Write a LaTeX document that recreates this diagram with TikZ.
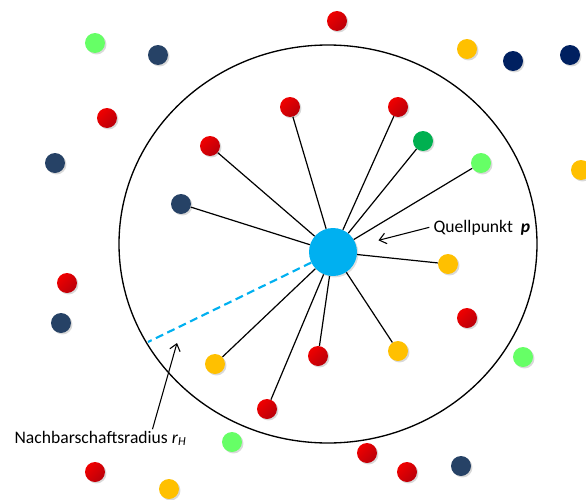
\documentclass[tikz,border=0pt]{standalone}
\usepackage{fontspec}
\setmainfont{Carlito}
\usetikzlibrary{shadows,arrows.meta}
\definecolor{dotred}{RGB}{240,0,0}
\definecolor{dotdarkred}{RGB}{185,0,10}
\definecolor{dotyellow}{RGB}{255,192,0}
\definecolor{dotgreen}{RGB}{0,176,80}
\definecolor{dotlime}{RGB}{102,255,102}
\definecolor{dotnavy}{RGB}{0,32,96}
\definecolor{dotslate}{RGB}{38,66,102}
\definecolor{quellblue}{RGB}{0,176,240}
\tikzset{
  dot/.style={circle,minimum size=15pt,inner sep=0pt,
    drop shadow={shadow xshift=1.1pt,shadow yshift=-1.1pt,opacity=.3}},
  rdot/.style={dot,top color=dotred,bottom color=dotdarkred,shading angle=45},
  ydot/.style={dot,fill=dotyellow},
  gdot/.style={dot,fill=dotgreen},
  ldot/.style={dot,fill=dotlime},
  ndot/.style={dot,fill=dotnavy},
  sdot/.style={dot,fill=dotslate},
  link/.style={line width=.9pt},
  pointer/.style={-{Straight Barb[length=5pt,width=8pt]},line width=.8pt},
  lbl/.style={font=\fontsize{13.2}{16}\selectfont,inner sep=1pt}
}
\begin{document}
\begin{tikzpicture}[x=.75pt,y=-.75pt]
\useasboundingbox (0,0) rectangle (586,500);

%neighbourhood
\draw[line width=1pt](328,244)ellipse[x radius=209,y radius=199];
%source point
\node[circle,fill=quellblue,minimum size=36pt,inner sep=0pt,
  drop shadow={shadow xshift=1.1pt,shadow yshift=-1.1pt,opacity=.25}](p)at(333,252){};
%neighbours
\node[rdot](n1)at(290,107){};
\node[rdot](n2)at(398,107){};
\node[rdot](n3)at(210,146){};
\node[gdot](n4)at(423,141){};
\node[ldot](n5)at(481,163){};
\node[sdot](n6)at(181,204){};
\node[ydot](n7)at(448,264){};
\node[ydot](n8)at(398,351){};
\node[rdot](n9)at(318,356){};
\node[ydot](n10)at(215,364){};
\node[rdot](n11)at(267,409){};
\foreach \n in {1,...,11}
  \draw[link](p)--(n\n);
%other points
\node[rdot](o1)at(467,318){};
\node[rdot](o2)at(337,21){};
\node[ldot](o3)at(95,43){};
\node[sdot](o4)at(158,55){};
\node[ydot](o5)at(467,49){};
\node[ndot](o6)at(513,61){};
\node[ndot](o7)at(570,55){};
\node[rdot](o8)at(107,118){};
\node[sdot](o9)at(55,163){};
\node[ydot](o10)at(581,170){};
\node[rdot](o11)at(67,283){};
\node[sdot](o12)at(61,323){};
\node[ldot](o13)at(523,357){};
\node[ldot](o14)at(232,442){};
\node[rdot](o15)at(367,453){};
\node[rdot](o16)at(407,472){};
\node[sdot](o17)at(461,466){};
\node[rdot](o18)at(95,472){};
\node[ydot](o19)at(169,489){};
%radius
\coordinate(rend)at(148,342);
\draw[quellblue,line width=1.6pt,dash pattern=on 6pt off 3.5pt](p)--(rend);
%labels
\node[lbl,anchor=base west](quell)at(432,232){Quellpunkt\hspace{.45em}\textbf{\textit{p}}};
\draw[pointer,shorten >=17pt]([xshift=-2pt]quell.west)--(p);
\node[lbl,anchor=base west](rlabel)at(13,443){Nachbarschaftsradius \textit{r}\textsubscript{\textit{H}}};
\coordinate(rtip)at(177,343);
\draw[pointer]([xshift=39pt]rlabel.north)--(rtip);

\end{tikzpicture}
\end{document}
